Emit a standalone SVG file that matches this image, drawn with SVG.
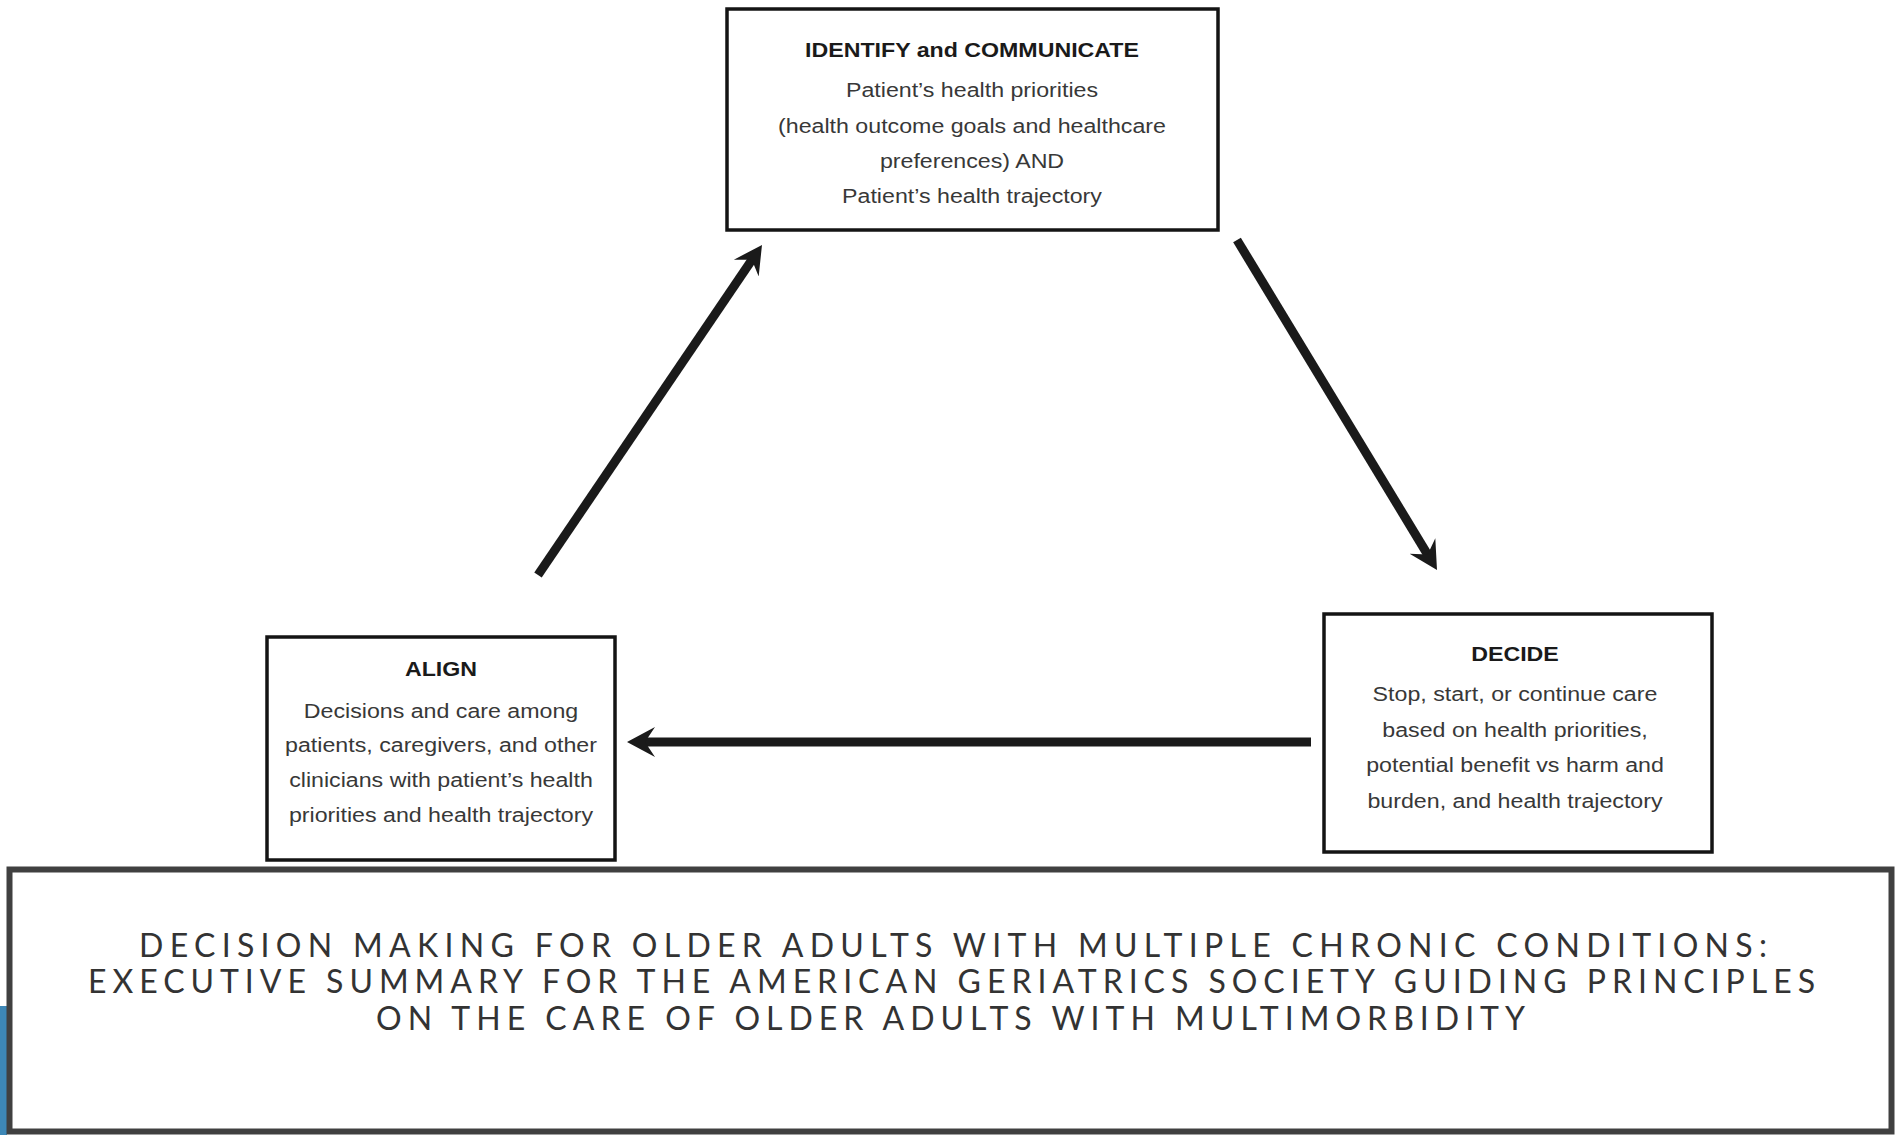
<svg xmlns="http://www.w3.org/2000/svg" width="1895" height="1135" viewBox="0 0 1895 1135">
<style>
.box{fill:#fff;stroke:#141414;stroke-width:3.5}
.ttl{font-family:"Liberation Sans",Arial,sans-serif;font-size:20px;font-weight:bold;fill:#1a1a1a;text-anchor:middle}
.txt{font-family:"Liberation Sans",Arial,sans-serif;font-size:20px;fill:#383838;text-anchor:middle}
.conn{fill:none;stroke:#1a1a1a;stroke-width:9;stroke-linecap:butt}
.cap{font-family:Lato,"Open Sans",sans-serif;font-size:32px;font-weight:400;fill:#333;text-anchor:middle}
</style>
<defs>
<marker id="ah" markerUnits="userSpaceOnUse" viewBox="0 -16 30 32" refX="12" refY="0" markerWidth="30" markerHeight="32" orient="auto">
<path d="M28,0 L0,-15 L10,0 L0,15 Z" fill="#1a1a1a"/>
</marker>
</defs>
<rect width="1895" height="1135" fill="#fff"/>

<g id="node-identify">
<rect class="box" x="727" y="9" width="491" height="221"/>
<g transform="translate(972,0) scale(1.16,1)">
<text class="ttl" x="0" y="57">IDENTIFY and COMMUNICATE</text>
<text class="txt" x="0" y="97">Patient’s health priorities</text>
<text class="txt" x="0" y="133">(health outcome goals and healthcare</text>
<text class="txt" x="0" y="168">preferences) AND</text>
<text class="txt" x="0" y="203">Patient’s health trajectory</text>
</g>
</g>

<g id="node-align">
<rect class="box" x="267" y="637" width="348" height="223"/>
<g transform="translate(441,0) scale(1.16,1)">
<text class="ttl" x="0" y="676">ALIGN</text>
<text class="txt" x="0" y="718">Decisions and care among</text>
<text class="txt" x="0" y="752">patients, caregivers, and other</text>
<text class="txt" x="0" y="787">clinicians with patient’s health</text>
<text class="txt" x="0" y="822">priorities and health trajectory</text>
</g>
</g>

<g id="node-decide">
<rect class="box" x="1324" y="614" width="388" height="238"/>
<g transform="translate(1515,0) scale(1.16,1)">
<text class="ttl" x="0" y="661">DECIDE</text>
<text class="txt" x="0" y="701">Stop, start, or continue care</text>
<text class="txt" x="0" y="737">based on health priorities,</text>
<text class="txt" x="0" y="772">potential benefit vs harm and</text>
<text class="txt" x="0" y="808">burden, and health trajectory</text>
</g>
</g>

<g id="connectors">
<line class="conn" x1="538" y1="575" x2="753" y2="258.2" marker-end="url(#ah)"/>
<line class="conn" x1="1237" y1="240" x2="1428.7" y2="556.3" marker-end="url(#ah)"/>
<line class="conn" x1="1311" y1="742" x2="643" y2="742" marker-end="url(#ah)"/>
</g>

<g id="title-box">
<rect x="0" y="1006" width="7" height="129" fill="#3d87b6"/>
<rect x="9.5" y="869.5" width="1882" height="262" fill="#fff" stroke="#404040" stroke-width="6"/>
<text class="cap" x="953" y="957" textLength="1628" lengthAdjust="spacing">DECISION MAKING FOR OLDER ADULTS WITH MULTIPLE CHRONIC CONDITIONS:</text>
<text class="cap" x="951.5" y="993" textLength="1727" lengthAdjust="spacing">EXECUTIVE SUMMARY FOR THE AMERICAN GERIATRICS SOCIETY GUIDING PRINCIPLES</text>
<text class="cap" x="950.5" y="1030" textLength="1149" lengthAdjust="spacing">ON THE CARE OF OLDER ADULTS WITH MULTIMORBIDITY</text>
</g>
</svg>
